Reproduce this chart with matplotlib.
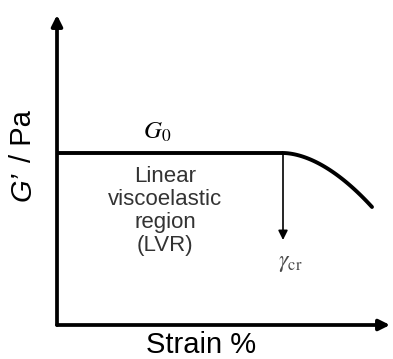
import numpy as np
import matplotlib
matplotlib.use("Agg")
import matplotlib.pyplot as plt

plt.rcParams['font.family'] = ['Liberation Sans', 'DejaVu Sans']
plt.rcParams['mathtext.fontset'] = 'stix'

# schematic curve (arbitrary units: strain along x, G' along y)
strain = [0, 226, 253, 276, 293, 306, 315]
g_prime = [172, 172, 166, 156, 144, 131, 118]
gamma_cr = 226
g0 = 172

fig = plt.figure(figsize=(3.93, 3.59), dpi=100)
ax = fig.add_axes([57 / 393, 34 / 359, 333 / 393, 310 / 359])
ax.set_xlim(0, 333)
ax.set_ylim(0, 310)
ax.axis('off')

# axes with arrow heads
for tip in [(0, 1), (1, 0)]:
    ax.annotate('', xy=tip, xytext=(0, 0), xycoords='axes fraction',
                arrowprops=dict(arrowstyle='-|>', lw=2.7, color='black',
                                mutation_scale=16, shrinkA=0, shrinkB=0))

# plateau + smooth drop after critical strain
xs = np.array(strain, dtype=float)
ys = np.array(g_prime, dtype=float)
ax.plot(xs[:2], ys[:2], color='black', lw=2.8, solid_capstyle='butt')
t = np.linspace(0, 1, 50)
cx = gamma_cr + t * (xs[-1] - gamma_cr)
cy = g0 - (g0 - ys[-1]) * t ** 1.8
ax.plot(cx, cy, color='black', lw=2.8, solid_capstyle='round')

# critical strain marker
ax.annotate('', xy=(gamma_cr, 85), xytext=(gamma_cr, g0),
            arrowprops=dict(arrowstyle='-|>', lw=1.2, color='black',
                            mutation_scale=14, shrinkA=0, shrinkB=0))
ax.text(gamma_cr + 7, 62, r'$\gamma_{\mathrm{cr}}$', fontsize=17,
        ha='center', va='center', color='#4a4a4a')

ax.text(100, 193, r'$G_0$', fontsize=18, ha='center', va='center')
ax.text(108, 114, 'Linear\nviscoelastic\nregion\n(LVR)', fontsize=16,
        ha='center', va='center', linespacing=1.12, color='#333333')

fig.text(201 / 393, 1 - 353 / 359, 'Strain %', fontsize=21,
         ha='center', va='baseline')
fig.text(23 / 393, 1 - 136 / 359, '/ Pa', fontsize=21, rotation=90,
         ha='center', va='center')
fig.text(23 / 393, 1 - 186 / 359, 'G\u2019', fontsize=21, rotation=90,
         ha='center', va='center', style='italic')

fig.savefig('out.png', dpi=100)
